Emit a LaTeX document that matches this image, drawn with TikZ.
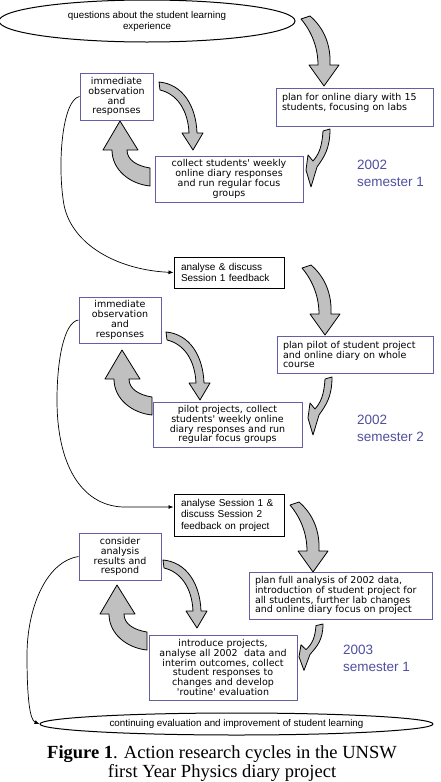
\documentclass[tikz,border=0pt]{standalone}
\usepackage{fontspec}
\setmainfont{Liberation Serif}
\newfontfamily\boxfont{DejaVu Sans}
\newfontfamily\arialfont{Liberation Sans}
\usetikzlibrary{arrows.meta,shapes.geometric}
\definecolor{boxline}{RGB}{100,95,165}
\definecolor{yearblue}{RGB}{80,80,160}
\definecolor{arrowgray}{RGB}{192,192,192}
\tikzset{
  pbox/.style={draw=boxline, line width=1pt, fill=white, inner xsep=6pt, inner ysep=2pt,
    font=\boxfont\fontsize{9.5}{9.8}\selectfont},
  abox/.style={draw=black, line width=1pt, fill=white, inner xsep=7pt, inner ysep=2pt, align=left,
    font=\arialfont\fontsize{10}{11.5}\selectfont},
  oval/.style={draw=black, line width=1pt, ellipse, fill=white, inner sep=0pt, align=center,
    font=\arialfont\fontsize{9.8}{11}\selectfont},
  blockarrow/.style={fill=arrowgray, draw=black, line width=0.8pt, line join=round},
  thinline/.style={draw=black, line width=0.7pt, -{Latex[length=5pt,width=4pt]}},
  yeartext/.style={text=yearblue, font=\arialfont\fontsize{13.5}{17}\selectfont, align=left,
    anchor=north west, inner sep=0pt},
  captext/.style={anchor=north, inner sep=0pt, align=center, font=\fontsize{18.5}{19.5}\selectfont},
}
\newcommand{\drawbigdown}[2]{\begin{scope}[shift={(#1,#2)}]
  \filldraw[blockarrow] (301,19) -- (310,16) .. controls (324,28) and (331,45) .. (330,65)
    -- (339,65) -- (324,86) -- (309,65) -- (318,65) .. controls (318,48) and (312,32) .. (301,19) -- cycle;
  \end{scope}}
\newcommand{\drawbigup}[2]{\begin{scope}[shift={(#1,#2)}]
  \filldraw[blockarrow] (150,168) .. controls (137,166) and (127,160) .. (127,150) -- (138,150)
    -- (120,121) -- (103,150) -- (112,150) .. controls (112,170) and (130,184) .. (150,186) -- cycle;
  \end{scope}}
\newcommand{\drawsmalldown}[2]{\begin{scope}[shift={(#1,#2)}]
  \filldraw[blockarrow] (159,82) .. controls (182,84) and (196,105) .. (197,133) -- (203,133)
    -- (193,150) -- (182,133) -- (189,133) .. controls (188,110) and (177,94) .. (160,90) -- cycle;
  \end{scope}}
\newcommand{\drawhook}[3]{\begin{scope}[shift={(#1,#2)}, yscale=#3]
  \filldraw[blockarrow] (-7,2) -- (0,0) .. controls (0,20) and (-6,28) .. (-13,38) -- (-19,58)
    -- (-24,41) -- (-22,26) -- (-17,32) .. controls (-11,25) and (-8,18) .. (-7,2) -- cycle;
  \end{scope}}

\begin{document}
\begin{tikzpicture}[x=1pt,y=-1pt]
\useasboundingbox (0,0) rectangle (440,782);
\clip (0,0) rectangle (440,782);
\fill[white] (0,0) rectangle (440,782);

% block arrows
\drawbigdown{0}{0}
\drawbigdown{1}{249}
\drawbigdown{-11}{486}
\drawbigup{0}{0}
\drawbigup{2}{229}
\drawbigup{-3}{464}
\drawsmalldown{0}{0}
\drawsmalldown{7}{250}
\drawsmalldown{4}{478}
\drawhook{330}{129}{1}
\drawhook{332}{377}{1}
\drawhook{323}{624}{0.8}

% nodes
\node[oval, minimum width=296pt, minimum height=42pt] (q) at (147,21)
  {questions about the student learning\\experience};
\node[pbox, text width=145pt, minimum height=38pt, align=left] (plan1) at (354.5,107)
  {plan for online diary with 15\\students, focusing on labs\\ \mbox{}};
\node[pbox, text width=61pt, minimum height=47pt, align=center] (imm1) at (116.5,96.5)
  {immediate\\observation\\and\\responses};
\node[pbox, text width=136pt, minimum height=46pt, align=center] (collect1) at (229,179)
  {collect students' weekly\\online diary responses\\and run regular focus\\groups};
\node[abox, text width=96pt, minimum height=31pt] (an1) at (229,272.5)
  {analyse \& discuss\\Session 1 feedback};
\node[pbox, text width=70pt, minimum height=46pt, align=center] (imm2) at (120,320)
  {immediate\\observation\\and\\responses};
\node[pbox, text width=144pt, minimum height=37pt, align=left] (planpilot) at (355,354.5)
  {plan pilot of student project\\and online diary on whole\\course};
\node[pbox, text width=137pt, minimum height=45pt, align=center] (pilot) at (227.5,424.5)
  {pilot projects, collect\\students' weekly online\\diary responses and run\\regular focus groups};
\node[abox, text width=96pt, minimum height=42pt] (an2) at (229,515)
  {analyse Session 1 \&\\discuss Session 2\\feedback on project};
\node[pbox, text width=70pt, minimum height=47pt, align=center] (consider) at (120,556.5)
  {consider\\analysis\\results and\\respond};
\node[pbox, text width=171pt, minimum height=47pt, align=left] (planfull) at (340.5,595.5)
  {plan full analysis of 2002 data,\\introduction of student project for\\all students, further lab changes\\and online diary focus on project};
\node[pbox, text width=136pt, minimum height=65pt, align=center] (intro) at (223,667.5)
  {introduce projects,\\analyse all 2002 \ data and\\interim outcomes, collect\\student responses to\\changes and develop\\'routine' evaluation};
\node[oval, minimum width=393pt, minimum height=22pt] (bot) at (236.5,724)
  {continuing evaluation and improvement of student learning};

\node[yeartext] (y1) at (357,160) {2002\\semester 1};
\node[yeartext] (y2) at (357,415) {2002\\semester 2};
\node[yeartext] (y3) at (343,645) {2003\\semester 1};

\node[captext] (cap) at (222,745.4)
  {\textbf{Figure 1}. Action research cycles in the UNSW\\first Year Physics diary project};

% thin connectors
\draw[thinline] (imm1.west) .. controls (62,100) and (57,165) .. (64,205)
  .. controls (72,245) and (118,270) .. (an1.west);
\draw[thinline] (imm2.west) .. controls (64,322) and (57,360) .. (57,400)
  .. controls (57,470) and (85,507) .. (125,507) -- ([yshift=8pt]an2.west);
\draw[thinline] (consider.west) .. controls (45,562) and (27,610) .. (27,655)
  .. controls (27,700) and (30,720) .. (bot.west);
\end{tikzpicture}
\end{document}
